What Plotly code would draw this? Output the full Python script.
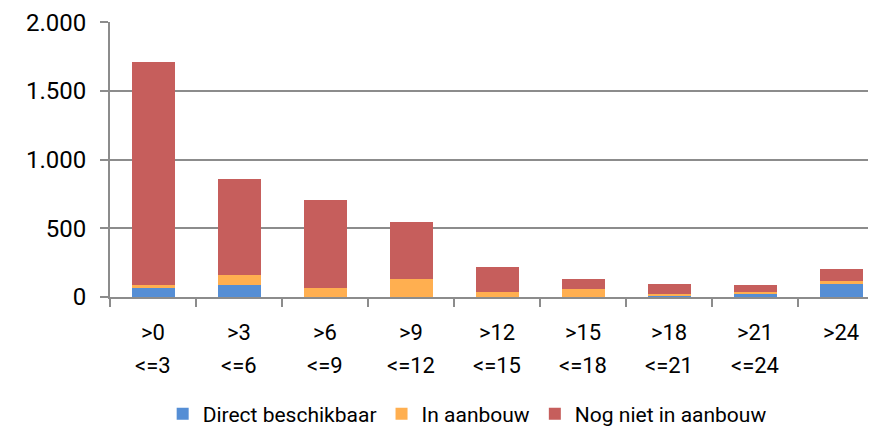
import plotly.graph_objects as go

categories = ["c1", "c2", "c3", "c4", "c5", "c6", "c7", "c8", "c9"]
label_top = [">0", ">3", ">6", ">9", ">12", ">15", ">18", ">21", ">24"]
label_bottom = ["<=3", "<=6", "<=9", "<=12", "<=15", "<=18", "<=21", "<=24", ""]

direct = [65, 84, 0, 0, 0, 0, 8, 25, 96]
aanbouw = [25, 78, 65, 128, 33, 55, 16, 14, 24]
nog_niet = [1620, 698, 641, 419, 187, 73, 72, 50, 85]

series = [
    ("Direct beschikbaar", direct, "#558ED5"),
    ("In aanbouw", aanbouw, "#FFAF50"),
    ("Nog niet in aanbouw", nog_niet, "#C65E5C"),
]

FONT = "Roboto"
GRID = "#8C8C8C"

W, H = 868, 419
ML, MT, MB, MR = 102, 14, 130, 0
plot_h = H - MT - MB

fig = go.Figure()
for name, vals, col in series:
    fig.add_trace(go.Bar(x=categories, y=vals, name=name,
                         marker=dict(color=col, line=dict(width=0))))

n_visible = (W - ML - MR) / 86.0
fig.update_layout(
    width=W, height=H,
    barmode="stack", bargap=0.5,
    separators=",.",
    plot_bgcolor="white", paper_bgcolor="white",
    margin=dict(l=ML, r=MR, t=MT, b=MB, autoexpand=False),
    font=dict(family=FONT, color="#000000"),
    legend=dict(orientation="h", xref="container", yref="container",
                x=0.529, y=0.031, xanchor="center", yanchor="middle",
                font=dict(size=21, family=FONT), itemwidth=30,
                traceorder="normal"),
    xaxis=dict(
        range=[-0.5, -0.5 + n_visible],
        tickvals=categories, ticktext=label_top,
        tickson="boundaries", ticks="outside", ticklen=8, tickwidth=2,
        tickcolor=GRID, showline=True, linecolor=GRID, linewidth=2,
        showgrid=False, tickfont=dict(size=22, family=FONT),
        ticklabelstandoff=15, automargin=False,
    ),
    yaxis=dict(
        range=[0, 2002], tickvals=[0, 500, 1000, 1500, 2000],
        tickformat=",d",
        ticks="outside", ticklen=8, tickwidth=2, tickcolor=GRID,
        showline=True, linecolor=GRID, linewidth=2,
        showgrid=True, gridcolor=GRID, gridwidth=2, zeroline=False,
        tickfont=dict(size=24, family=FONT), ticklabelstandoff=9,
        automargin=False,
    ),
)

for c, t in zip(categories, label_bottom):
    if t:
        fig.add_annotation(x=c, y=-(357 - (H - MB)) / plot_h, xref="x", yref="paper",
                           text=t, showarrow=False, yanchor="middle",
                           font=dict(size=22, family=FONT, color="#000000"))

fig.write_html("out.html")
